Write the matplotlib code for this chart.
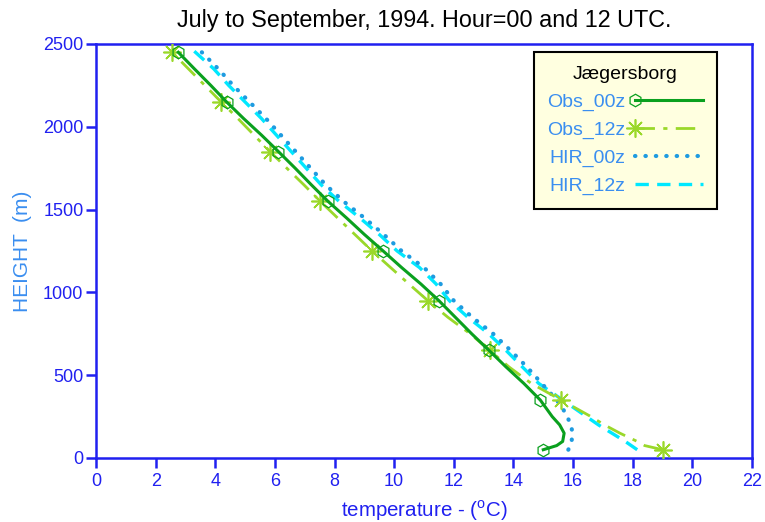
import matplotlib
matplotlib.use("Agg")
import matplotlib.pyplot as plt
from matplotlib.legend_handler import HandlerLine2D

plt.rcParams['font.family'] = ['Liberation Sans', 'DejaVu Sans']
plt.rcParams['mathtext.fontset'] = 'custom'
plt.rcParams['mathtext.rm'] = 'Liberation Sans'

# Observed profiles (height in m, temperature in deg C)
obs_height = [50, 75, 100, 150, 200, 250, 300, 350, 450, 550, 650, 750, 850, 950,
              1050, 1150, 1250, 1350, 1450, 1550, 1650, 1750, 1850, 1950, 2050,
              2150, 2250, 2350, 2450]
obs_00z = [15.0, 15.45, 15.65, 15.7, 15.55, 15.3, 15.1, 14.9, 14.35, 13.75, 13.18,
           12.6, 12.05, 11.5, 10.9, 10.25, 9.63, 9.0, 8.4, 7.78, 7.22, 6.68, 6.12,
           5.55, 4.95, 4.38, 3.85, 3.3, 2.76]
obs_12z = [19.0, 18.4, 18.15, 17.57, 17.05, 16.6, 16.1, 15.6, 14.6, 13.85, 13.2,
           12.55, 11.8, 11.13, 10.5, 9.88, 9.26, 8.68, 8.1, 7.52, 6.97, 6.4, 5.84,
           5.3, 4.76, 4.2, 3.65, 3.1, 2.55]
marker_heights = [50, 350, 650, 950, 1250, 1550, 1850, 2150, 2450]

# HIRLAM model profiles
hir_00z_height = [50, 100, 150, 200, 250, 300, 350, 450, 550, 650, 750, 850, 950, 1050,
                  1150, 1250, 1350, 1450, 1550, 1650, 1750, 1850, 1950, 2050, 2150,
                  2250, 2350, 2450]
hir_00z = [15.84, 15.95, 15.98, 15.93, 15.8, 15.65, 15.45, 14.95, 14.45, 13.9, 13.32,
           12.62, 12.0, 11.56, 11.0, 10.25, 9.65, 9.0, 8.3, 7.7, 7.2, 6.7, 6.2, 5.7,
           5.15, 4.6, 4.1, 3.55]
hir_12z_height = [50, 100, 150, 200, 250, 300, 350, 450, 550, 650, 750, 850, 950, 1050,
                  1150, 1250, 1350, 1450, 1550, 1650, 1750, 1850, 1950, 2050, 2150,
                  2250, 2350, 2480]
hir_12z = [18.15, 17.75, 17.3, 16.85, 16.45, 16.05, 15.65, 14.85, 14.3, 13.75, 13.17,
           12.47, 11.85, 11.41, 10.85, 10.1, 9.5, 8.85, 8.15, 7.55, 7.05, 6.55, 6.05,
           5.55, 5.0, 4.45, 3.95, 3.15]

x_ticks = [0, 2, 4, 6, 8, 10, 12, 14, 16, 18, 20, 22]
y_ticks = [0, 500, 1000, 1500, 2000, 2500]

AXIS_BLUE = '#2020f0'
LABEL_BLUE = '#3a8ef0'
GREEN = '#0aa01e'
LIME = '#9ad82a'
SKY = '#1e9be0'
CYAN = '#00e8ff'

marker_idx = [obs_height.index(h) for h in marker_heights]

fig = plt.figure(figsize=(7.65, 5.22), dpi=100)
ax = fig.add_axes([96 / 765, 1 - 458 / 522, (752 - 96) / 765, (458 - 44) / 522])

ax.plot(obs_00z, obs_height, color=GREEN, lw=2.2, marker='h', markersize=9,
        markerfacecolor='none', markeredgecolor=GREEN, markeredgewidth=0.9,
        markevery=marker_idx, label='Obs_00z', zorder=4)
ax.plot(obs_12z, obs_height, color=LIME, lw=2.0, dashes=(7, 3, 1.5, 3),
        marker=(8, 2, 0), markersize=13, markeredgecolor=LIME, markeredgewidth=1.2,
        markevery=marker_idx, label='Obs_12z', zorder=3)
ax.plot(hir_00z, hir_00z_height, color=SKY, lw=3.0, linestyle=(0, (0.1, 2.4)),
        dash_capstyle='round', label='HIR_00z', zorder=2)
ax.plot(hir_12z, hir_12z_height, color=CYAN, lw=2.4, dashes=(4, 2.5),
        label='HIR_12z', zorder=1)

ax.set_xlim(0, 22)
ax.set_ylim(0, 2500)
ax.set_xticks(x_ticks)
ax.set_yticks(y_ticks)

for sp in ax.spines.values():
    sp.set_color(AXIS_BLUE)
    sp.set_linewidth(1.8)
ax.tick_params(axis='both', colors=AXIS_BLUE, width=1.8, length=7, labelsize=13,
               direction='out')
ax.tick_params(axis='x', pad=4)
ax.tick_params(axis='y', pad=2)

ax.set_xlabel(r'temperature - ($^{\mathrm{o}}$C)', color=AXIS_BLUE, fontsize=14.8,
              labelpad=6)
ax.set_ylabel('HEIGHT  (m)', color=LABEL_BLUE, fontsize=15, labelpad=8)
ax.set_title('July to September, 1994. Hour=00 and 12 UTC.', fontsize=16.8,
             color='black', pad=12)


class LeftMarkerHandler(HandlerLine2D):
    """Legend line with its single marker placed at the left end."""

    def create_artists(self, *args, **kwargs):
        artists = super().create_artists(*args, **kwargs)
        for art in artists:
            if art.get_marker() not in (None, 'None', '', ' '):
                art.set_markevery([0])
        return artists


leg = ax.legend(title='Jægersborg', loc='upper right', bbox_to_anchor=(0.947, 0.981),
                borderaxespad=0, frameon=True, fancybox=False, edgecolor='black',
                facecolor='#ffffe0', framealpha=1, fontsize=14,
                title_fontsize=14, handlelength=3.5, handletextpad=0.48,
                markerfirst=False, labelspacing=0.52, borderpad=0.72,
                handler_map={plt.Line2D: LeftMarkerHandler(numpoints=1)})
leg.get_frame().set_linewidth(1.5)
for t in leg.get_texts():
    t.set_color(LABEL_BLUE)

fig.savefig('out.png', dpi=100)
